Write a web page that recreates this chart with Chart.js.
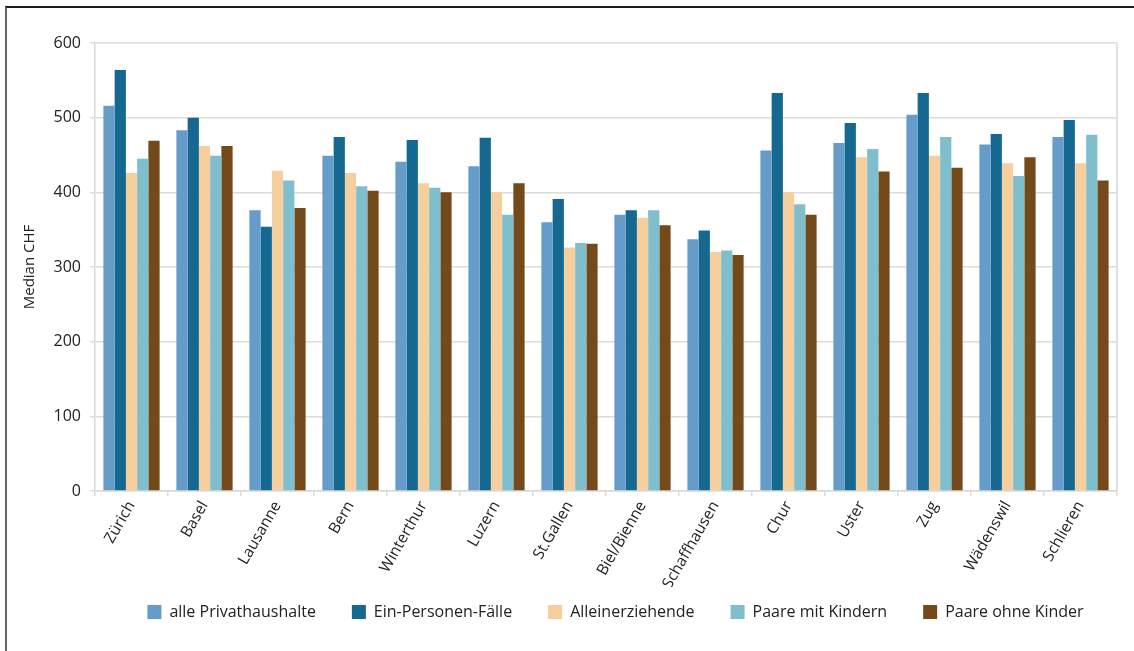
<!DOCTYPE html>
<html>
<head>
<meta charset="utf-8">
<script src="https://cdn.jsdelivr.net/npm/chart.js@4"></script>
<style>
  html, body { margin: 0; padding: 0; background: #fff; }
  #wrap { position: relative; width: 1134px; height: 651px; }
  #frame {
    position: absolute; left: 5px; top: 6px; right: 0; bottom: 0;
    border-top: 2px solid #1a1a1a; border-left: 2px solid #666;
    pointer-events: none;
  }
  canvas { position: absolute; left: 0; top: 0; }
</style>
</head>
<body>
<div id="wrap">
  <canvas id="chart" width="1134" height="651"></canvas>
  <div id="frame"></div>
</div>
<script>
// categories (cities)
const cities = ["Zürich", "Basel", "Lausanne", "Bern", "Winterthur", "Luzern", "St.Gallen",
  "Biel/Bienne", "Schaffhausen", "Chur", "Uster", "Zug", "Wädenswil", "Schlieren"];

// median CHF per household type
const allePrivathaushalte = [516, 483, 376, 449, 441, 435, 360, 370, 337, 456, 466, 504, 464, 474];
const einPersonenFaelle   = [564, 500, 354, 474, 470, 473, 391, 376, 349, 533, 493, 533, 478, 497];
const alleinerziehende    = [426, 462, 429, 426, 412, 400, 326, 366, 320, 400, 447, 449, 439, 439];
const paareMitKindern     = [445, 449, 416, 408, 406, 370, 332, 376, 322, 384, 458, 474, 422, 477];
const paareOhneKinder     = [469, 462, 379, 402, 400, 412, 331, 356, 316, 370, 428, 433, 447, 416];

const seriesNames = ["alle Privathaushalte", "Ein-Personen-Fälle", "Alleinerziehende",
  "Paare mit Kindern", "Paare ohne Kinder"];
const seriesColors = ["#659cc9", "#15688f", "#f6cf9e", "#7fbfcd", "#744a1b"];
const yTicks = [0, 100, 200, 300, 400, 500, 600];

const FONT = "'Open Sans', 'Noto Sans', sans-serif";

// right border of the plot area, and legend nudged to sit under the plot
const plotFrame = {
  id: "plotFrame",
  afterLayout(chart) {
    const lg = chart.legend;
    if (!lg) return;
    lg.top -= 19; lg.bottom -= 19;
    lg.left += 50; lg.right += 50;
  },
  afterDraw(chart) {
    const { ctx, chartArea } = chart;
    ctx.save();
    ctx.strokeStyle = "#d9d9d9";
    ctx.lineWidth = 1.5;
    ctx.beginPath();
    ctx.moveTo(chartArea.right, chartArea.top);
    ctx.lineTo(chartArea.right, chartArea.bottom);
    ctx.stroke();
    ctx.restore();
  }
};

const values = [allePrivathaushalte, einPersonenFaelle, alleinerziehende, paareMitKindern, paareOhneKinder];

new Chart(document.getElementById("chart"), {
  type: "bar",
  data: {
    labels: cities,
    datasets: values.map((v, i) => ({
      label: seriesNames[i],
      data: v,
      backgroundColor: seriesColors[i],
      borderWidth: 0,
      barPercentage: 1.0,
      categoryPercentage: 0.77
    }))
  },
  options: {
    responsive: false,
    animation: false,
    layout: { padding: { left: 14, right: 17, top: 43, bottom: 2 } },
    plugins: {
      legend: {
        position: "bottom",
        labels: {
          boxWidth: 14,
          boxHeight: 14,
          padding: 36,
          color: "#222",
          font: { family: FONT, size: 16 }
        }
      },
      tooltip: { enabled: false }
    },
    scales: {
      x: {
        grid: { drawOnChartArea: false, drawTicks: true, tickLength: 5, color: "#d9d9d9", lineWidth: 1.5 },
        border: { color: "#d9d9d9", width: 1.5 },
        ticks: {
          color: "#222",
          font: { family: FONT, size: 15.5 },
          minRotation: 60,
          maxRotation: 60,
          padding: 2
        },
        afterFit(scale) { scale.height = 96; }
      },
      y: {
        min: 0,
        max: 600,
        afterBuildTicks(scale) { scale.ticks = yTicks.map(v => ({ value: v })); },
        grid: { color: "#dcdcdc", lineWidth: 1.5, tickLength: 5 },
        border: { color: "#d9d9d9", width: 1.5 },
        ticks: {
          color: "#222",
          font: { family: FONT, size: 16 },
          padding: 9
        },
        title: {
          display: true,
          text: "Median CHF",
          color: "#222",
          font: { family: FONT, size: 15 },
          padding: { top: 7, bottom: 0 }
        },
        afterFit(scale) { scale.width = 81; }
      }
    }
  },
  plugins: [plotFrame]
});
</script>
</body>
</html>
